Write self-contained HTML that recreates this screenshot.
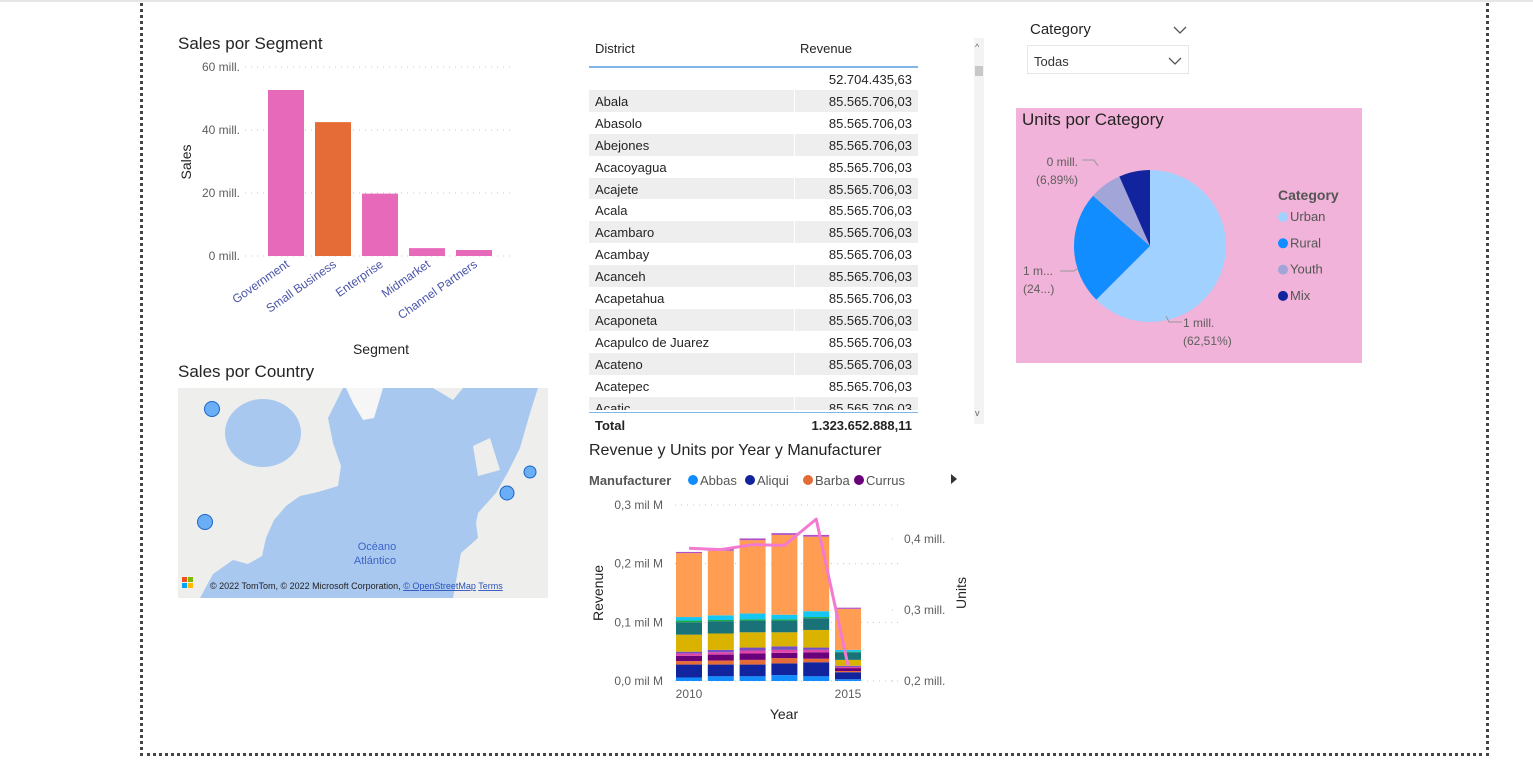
<!DOCTYPE html>
<html><head><meta charset="utf-8">
<style>
body{margin:0;width:1533px;height:761px;background:#fff;font-family:"Liberation Sans",sans-serif;position:relative;overflow:hidden}
.abs{position:absolute}
.t{color:#252423}
</style></head>
<body>
<div class="abs" style="left:0;top:0;width:1533px;height:2px;background:#e6e6e6"></div>
<div class="abs" style="left:140px;top:-3px;width:1343px;height:756px;border:3px dotted #444;border-top:none"></div>

<svg class="abs" style="left:0;top:0" width="560" height="370" id="segsvg"></svg>

<div class="abs t" style="left:178px;top:362px;font-size:17px">Sales por Country</div>
<svg class="abs" style="left:178px;top:388px" width="370" height="210">
<rect width="370" height="210" fill="#a9c8f0"/>
<path d="M0,0 L165,0 L150,30 L155,55 L163,78 L160,98 L140,104 L122,108 L108,118 L96,132 L88,150 L84,168 L70,176 L55,172 L35,186 L22,210 L0,210Z" fill="#eeeeec"/>
<ellipse cx="85" cy="45" rx="38" ry="34" fill="#a9c8f0"/>
<path d="M168,0 L205,0 L196,30 L185,32 L175,15 Z" fill="#f6f6f6"/>
<path d="M255,0 L285,0 L275,12 Z" fill="#eeeeec"/>
<path d="M300,125 L318,105 L330,84 L342,60 L352,25 L360,0 L370,0 L370,210 L275,210 L283,165 L300,150 L298,135Z" fill="#eeeeec"/>
<path d="M295,58 L312,50 L322,82 L300,88Z" fill="#eeeeec"/>
<circle cx="34" cy="21" r="7.5" fill="#6aaef5" stroke="#1a64c8"/>
<circle cx="27" cy="134" r="7.5" fill="#6aaef5" stroke="#1a64c8"/>
<circle cx="329" cy="105" r="7" fill="#6aaef5" stroke="#1a64c8"/>
<circle cx="352" cy="84" r="6" fill="#6aaef5" stroke="#1a64c8"/>
<text x="199" y="162" font-size="11" fill="#3c64c8" text-anchor="middle" font-family="Liberation Sans">Océano</text>
<text x="197" y="176" font-size="11" fill="#3c64c8" text-anchor="middle" font-family="Liberation Sans">Atlántico</text>
<rect x="4" y="189" width="5" height="5" fill="#f25022"/><rect x="10" y="189" width="5" height="5" fill="#7fba00"/><rect x="4" y="195" width="5" height="5" fill="#00a4ef"/><rect x="10" y="195" width="5" height="5" fill="#ffb900"/>
<text x="32" y="201" font-size="9" fill="#222" font-family="Liberation Sans">© 2022 TomTom, © 2022 Microsoft Corporation, <tspan fill="#2a52be" text-decoration="underline">© OpenStreetMap</tspan>  <tspan fill="#2a52be" text-decoration="underline">Terms</tspan></text>
</svg>

<div class="abs" style="left:589px;top:30px;width:330px;height:410px;font-size:13px;color:#252423">
<div style="position:absolute;left:0;top:0;width:329px;height:36px;border-bottom:2px solid #7fb6ea">
<span style="position:absolute;left:6px;top:11px">District</span>
<span style="position:absolute;left:211px;top:11px">Revenue</span></div>
<div id="rows" style="position:absolute;left:0;top:38px;width:329px;height:342px;overflow:hidden"></div>
<div style="position:absolute;left:0;top:382px;width:329px;height:24px;border-top:1px solid #7fb6ea;font-weight:bold">
<span style="position:absolute;left:6px;top:5px">Total</span><span style="position:absolute;right:6px;top:5px">1.323.652.888,11</span></div>
</div>
<div class="abs" style="left:974px;top:38px;width:10px;height:386px;background:#f3f3f3">
<div style="position:absolute;left:1px;top:28px;width:8px;height:10px;background:#c8c8c8"></div>
<div style="position:absolute;left:1px;top:4px;font-size:9px;color:#666">^</div>
<div style="position:absolute;left:1px;bottom:6px;font-size:9px;color:#666">v</div></div>

<div class="abs t" style="left:1030px;top:21px;font-size:15px">Category</div>
<svg class="abs" style="left:1173px;top:25px" width="14" height="10"><path d="M1,2 L7,8 L13,2" fill="none" stroke="#555" stroke-width="1.3"/></svg>
<div class="abs" style="left:1027px;top:45px;width:160px;height:27px;border:1px solid #e6e6e6;font-size:13px;color:#333">
<span style="position:absolute;left:6px;top:8px">Todas</span>
<svg style="position:absolute;left:140px;top:10px" width="14" height="10"><path d="M1,2 L7,8 L13,2" fill="none" stroke="#555" stroke-width="1.3"/></svg></div>

<div class="abs" style="left:1016px;top:108px;width:346px;height:255px;background:#f1b3d9"></div>
<svg class="abs" style="left:1016px;top:108px" width="346" height="255" id="piesvg"></svg>

<svg class="abs" style="left:580px;top:430px" width="400" height="300" id="combosvg"></svg>

<script>
const NS="http://www.w3.org/2000/svg";
function mk(p,tag,a,txt){const e=document.createElementNS(NS,tag);for(const k in a)e.setAttribute(k,a[k]);if(txt!=null)e.textContent=txt;p.appendChild(e);return e;}
const F="Liberation Sans";

const segCategories=["Government","Small Business","Enterprise","Midmarket","Channel Partners"];
const segValues=[52.7,42.5,19.8,2.5,1.9];
const segTicks=[0,20,40,60];
const segTickLabels=["0 mill.","20 mill.","40 mill.","60 mill."];
(function(){
 const s=document.getElementById('segsvg');
 const y0=256,y1=67,vmax=60;
 const y=v=>y0-(v/vmax)*(y0-y1);
 const x=i=>268+i*47;
 mk(s,'text',{x:178,y:49,'font-size':17,fill:'#252423','font-family':F},'Sales por Segment');
 segTicks.forEach((t,i)=>{
  const g=mk(s,'line',{x1:245,x2:510,y1:y(t),y2:y(t),stroke:'#c8c8c8','stroke-dasharray':'1,5'});
  
  const tx=mk(s,'text',{x:240,y:y(t)+4,'font-size':12,fill:'#605e5c','text-anchor':'end','font-family':F},segTickLabels[i]);
  
 });
 segValues.forEach((v,i)=>{
  const r=mk(s,'rect',{x:x(i),y:y(v),width:36,height:y0-y(v),fill:i==1?'#e66c37':'#e66ab9'});
  
  
  const cx=x(i)+22;
  const l=mk(s,'text',{x:cx,y:266,'font-size':12,fill:'#4a55a8','text-anchor':'end','font-family':F,transform:`rotate(-35 ${cx} 266)`},segCategories[i]);
  
 });
 const yt=mk(s,'text',{x:191,y:162,'font-size':14,fill:'#252423','text-anchor':'middle','font-family':F,transform:'rotate(-90 191 162)'},'Sales');
 
 const xt=mk(s,'text',{x:381,y:354,'font-size':14,fill:'#252423','text-anchor':'middle','font-family':F},'Segment');
 
})();

const districts=["","Abala","Abasolo","Abejones","Acacoyagua","Acajete","Acala","Acambaro","Acambay","Acanceh","Acapetahua","Acaponeta","Acapulco de Juarez","Acateno","Acatepec","Acatic"];
const revenues=["52.704.435,63"].concat(Array(15).fill("85.565.706,03"));
(function(){
 const c=document.getElementById('rows');
 districts.forEach((d,i)=>{
  const r=document.createElement('div');
  
  
  r.style.cssText=`position:absolute;left:0;top:${i*21.9}px;width:329px;height:21.9px;background:${i%2?'#eeeeee':'#fff'};border-bottom:1px solid #fff`;
  r.innerHTML=`<span style="position:absolute;left:6px;top:4px">${d}</span><span style="position:absolute;right:6px;top:4px">${revenues[i]}</span><span style="position:absolute;left:205px;top:0;width:1px;height:22px;background:#fff"></span>`;
  c.appendChild(r);
 });
})();

const pieCategories=["Urban","Rural","Youth","Mix"];
const pieShares=[62.51,24.0,6.89,6.6];
const pieColors=["#a0d1ff","#118dff","#a1a5d8","#12239e"];
(function(){
 const s=document.getElementById('piesvg');
 mk(s,'text',{x:6,y:17,'font-size':17,fill:'#252423','font-family':F},'Units por Category');
 const cx=134,cy=138,r=76;const tot=pieShares.reduce((a,b)=>a+b,0);
 let a0=-Math.PI/2;
 pieShares.forEach((v,i)=>{
  const a1=a0+v/tot*2*Math.PI;
  const p=`M${cx},${cy} L${cx+r*Math.cos(a0)},${cy+r*Math.sin(a0)} A${r},${r} 0 ${a1-a0>Math.PI?1:0} 1 ${cx+r*Math.cos(a1)},${cy+r*Math.sin(a1)} Z`;
  const e=mk(s,'path',{d:p,fill:pieColors[i]});
  
  
  a0=a1;
 });
 const lab=(x,y,t1,t2,anchor)=>{mk(s,'text',{x,y,'font-size':12,fill:'#605e5c','font-family':F,'text-anchor':anchor},t1);mk(s,'text',{x,y:y+18,'font-size':12,fill:'#605e5c','font-family':F,'text-anchor':anchor},t2);};
 lab(167,219,'1 mill.','(62,51%)','start');
 lab(7,167,'1 m...','(24...)','start');
 lab(62,58,'0 mill.','(6,89%)','end');
 mk(s,'path',{d:'M166,214 L153,214 L150,208',fill:'none',stroke:'#999'});
 mk(s,'path',{d:'M44,163 L58,163 L62,160',fill:'none',stroke:'#999'});
 mk(s,'path',{d:'M66,52 L78,52 L82,58',fill:'none',stroke:'#999'});
 mk(s,'text',{x:262,y:92,'font-size':14,'font-weight':'bold',fill:'#555','font-family':F},'Category');
 pieCategories.forEach((c,i)=>{
  const g=mk(s,'g',{});
  
  mk(g,'circle',{cx:267,cy:109+i*26.3,r:5,fill:pieColors[i]});
  mk(g,'text',{x:274,y:113+i*26.3,'font-size':13,fill:'#555','font-family':F},c);
 });
})();

const years=[2010,2011,2012,2013,2014,2015];
const segNames=["lightblue","navy","orangered","darkpurple","pink","purple","yellow","teal","green","cyan","orange","toppurple"];
const segColors=["#118dff","#12239e","#e66c37","#6b007b","#e044a7","#744ec2","#d9b300","#197278","#1aab40","#15c6f4","#ff9d52","#b04fc8"];
const rev2010=[0.006,0.022,0.006,0.009,0.004,0.003,0.029,0.021,0.003,0.006,0.109,0.002];
const rev2011=[0.008,0.020,0.007,0.010,0.004,0.004,0.028,0.021,0.002,0.008,0.110,0.004];
const rev2012=[0.008,0.020,0.008,0.011,0.005,0.005,0.026,0.020,0.002,0.010,0.125,0.003];
const rev2013=[0.010,0.020,0.009,0.009,0.005,0.006,0.024,0.020,0.002,0.008,0.136,0.003];
const rev2014=[0.008,0.024,0.006,0.011,0.004,0.004,0.030,0.020,0.002,0.010,0.127,0.003];
const rev2015=[0.003,0.012,0.002,0.005,0.002,0.002,0.010,0.013,0.001,0.003,0.070,0.002];
const units=[0.387,0.385,0.392,0.391,0.428,0.222];
const revTickLabels=["0,0 mil M","0,1 mil M","0,2 mil M","0,3 mil M"];
const revTicks=[0,0.1,0.2,0.3];
const unitTicks=[0.2,0.3,0.4];
const unitTickLabels=["0,2 mill.","0,3 mill.","0,4 mill."];
(function(){
 const s=document.getElementById('combosvg');
 const ox=580,oy=430;
 const yR=v=>681-oy-(v/0.3)*(681-505);
 const yU=v=>681-oy-((v-0.2)/0.2)*(681-539);
 const xc=i=>689-ox+i*31.8;
 mk(s,'text',{x:9,y:25,'font-size':16,fill:'#252423','font-family':F},'Revenue y Units por Year y Manufacturer');
 mk(s,'text',{x:9,y:55,'font-size':13,'font-weight':'bold',fill:'#555','font-family':F},'Manufacturer');
 [["Abbas","#118dff",113],["Aliqui","#12239e",170],["Barba","#e66c37",228],["Currus","#6b007b",279]].forEach(l=>{
  const g=mk(s,'g',{});
  mk(g,'circle',{cx:l[2],cy:50,r:5,fill:l[1]});mk(g,'text',{x:l[2]+7,y:55,'font-size':13,fill:'#555','font-family':F},l[0]);
 });
 mk(s,'path',{d:'M371,44 L377,49 L371,54Z',fill:'#333'});
 revTicks.forEach((t,i)=>{
  mk(s,'line',{x1:95,x2:318,y1:yR(t),y2:yR(t),stroke:'#c8c8c8','stroke-dasharray':'1,5'});
  const e=mk(s,'text',{x:83,y:yR(t)+4,'font-size':12,fill:'#605e5c','text-anchor':'end','font-family':F},revTickLabels[i]);
  
 });
 unitTicks.forEach((t,i)=>{
  const e=mk(s,'text',{x:324,y:yU(t)+4,'font-size':12,fill:'#605e5c','font-family':F},unitTickLabels[i]);
  
  mk(s,'line',{x1:312,x2:316,y1:yU(t),y2:yU(t),stroke:'#c8c8c8','stroke-dasharray':'1,3'});
 });
 const all=[rev2010,rev2011,rev2012,rev2013,rev2014,rev2015];
 all.forEach((arr,i)=>{
  let acc=0;
  arr.forEach((v,j)=>{
   const r=mk(s,'rect',{x:xc(i)-13,y:yR(acc+v),width:26,height:yR(acc)-yR(acc+v),fill:segColors[j]});
   
   
   acc+=v;
  });
 });
 const pts=units.map((u,i)=>`${xc(i)},${yU(u)}`).join(' ');
 const ln=mk(s,'polyline',{points:pts,fill:'none',stroke:'#f27ad0','stroke-width':3,'stroke-linejoin':'round'});
 
 [[0,"2010"],[5,"2015"]].forEach(p=>{
  const e=mk(s,'text',{x:xc(p[0]),y:268,'font-size':12,fill:'#605e5c','text-anchor':'middle','font-family':F},p[1]);
  
 });
 const xt=mk(s,'text',{x:204,y:289,'font-size':14,fill:'#252423','text-anchor':'middle','font-family':F},'Year');
 
 const y1=mk(s,'text',{x:23,y:163,'font-size':14,fill:'#252423','text-anchor':'middle','font-family':F,transform:'rotate(-90 23 163)'},'Revenue');
 
 const y2=mk(s,'text',{x:386,y:163,'font-size':14,fill:'#252423','text-anchor':'middle','font-family':F,transform:'rotate(-90 386 163)'},'Units');
 
})();
</script>
</body></html>
